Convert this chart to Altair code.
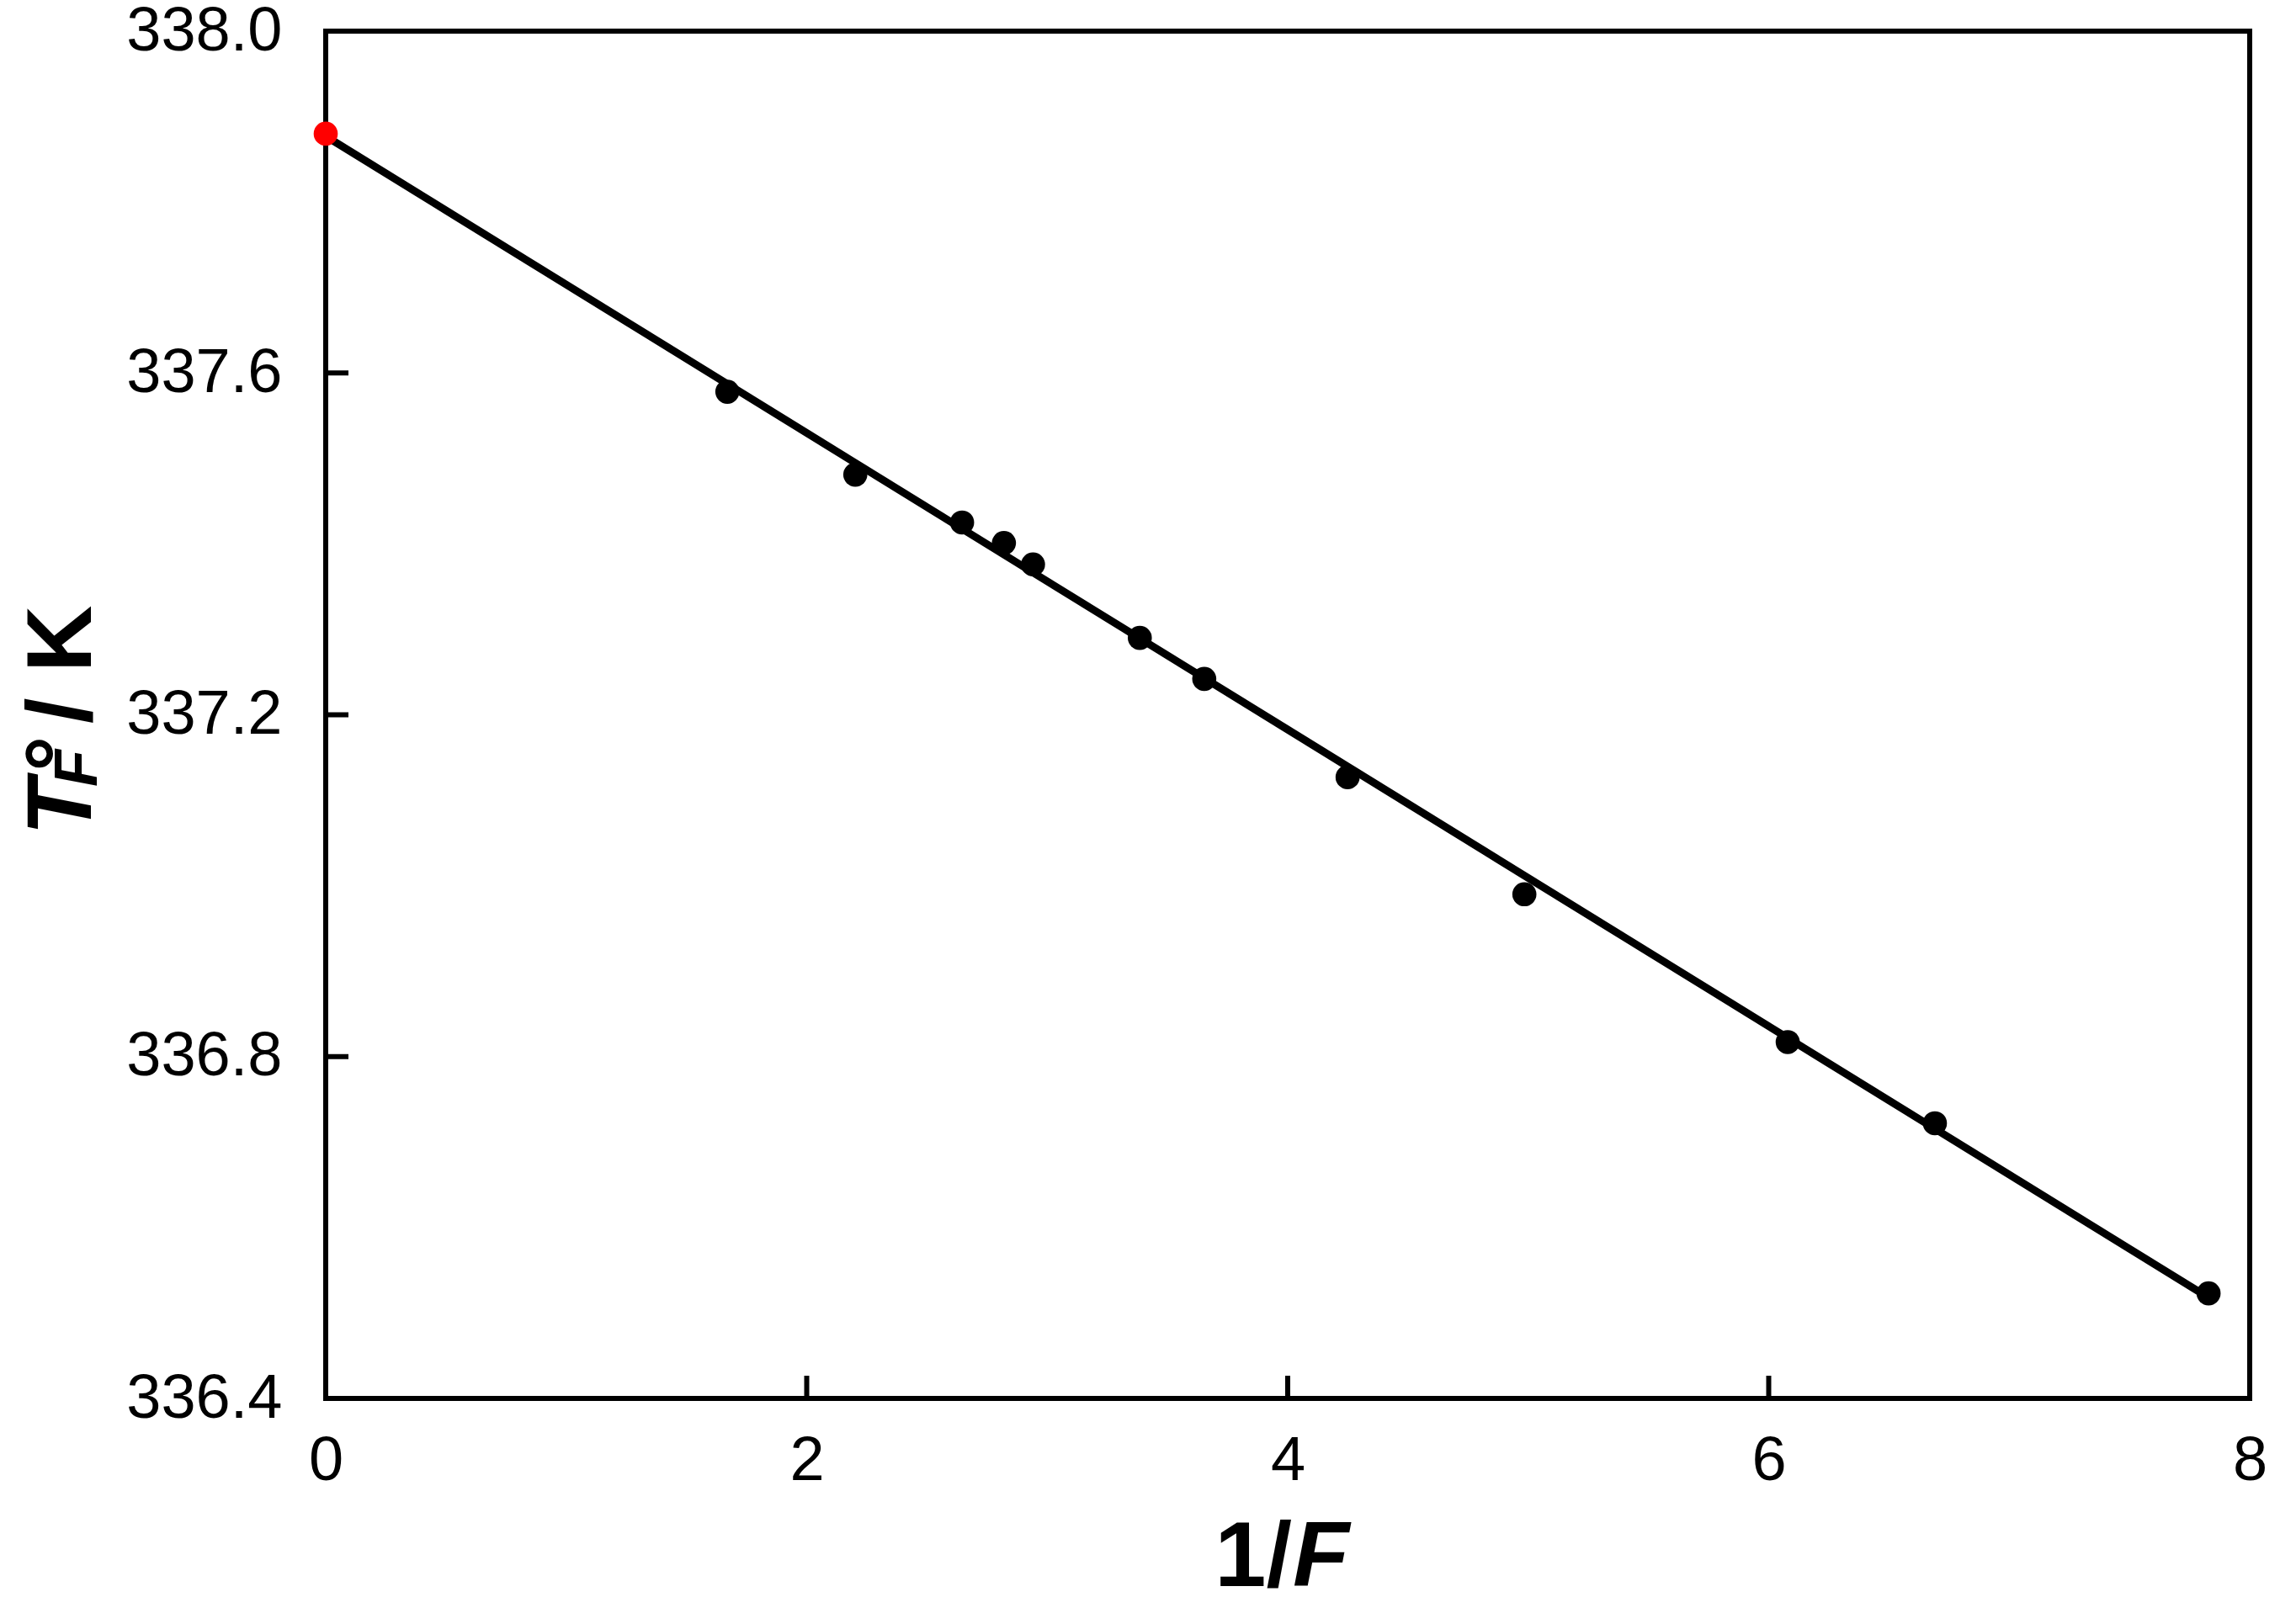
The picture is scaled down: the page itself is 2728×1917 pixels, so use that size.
import altair as alt
import pandas as pd

# ---- data ----
inv_F = [1.670, 2.202, 2.646, 2.820, 2.941, 3.385, 3.653, 4.249, 4.984, 6.079, 6.691, 7.829]
T_F = [337.578, 337.481, 337.425, 337.401, 337.376, 337.290, 337.242, 337.127, 336.990, 336.817, 336.722, 336.523]
extrap_x = [0.0]
extrap_y = [337.880]
fit_x = [0.0, 7.829]
fit_y = [337.877, 336.518]
x_ticks = [0, 2, 4, 6, 8]
y_ticks = [336.4, 336.8, 337.2, 337.6, 338.0]
x_title_parts = ["1/", "F"]
y_title_parts = ["T", "°", "F", "/ K"]

W, H = 2286, 1625
FONT = "Liberation Sans"

pts = pd.DataFrame({"x": inv_F, "y": T_F})
red = pd.DataFrame({"x": extrap_x, "y": extrap_y})
fit = pd.DataFrame({"x": fit_x, "y": fit_y})
xt = pd.DataFrame({"x": x_ticks})
yt = pd.DataFrame({"y": y_ticks})
one = pd.DataFrame({"k": [0]})

xs = alt.Scale(domain=[0, 8], nice=False, zero=False)
ys = alt.Scale(domain=[336.4, 338.0], nice=False, zero=False)

x_axis = alt.Axis(values=x_ticks, title=None, grid=False, ticks=False, domain=False,
                  labelFontSize=74, labelPadding=38, labelFlush=False, labelColor="black",
                  labelFont=FONT, labelOverlap=False, labelLimit=0)
y_axis = alt.Axis(values=y_ticks, format=".1f", title=None, grid=False, ticks=False, domain=False,
                  labelFontSize=74, labelPadding=52, labelFlush=False, labelColor="black",
                  labelFont=FONT, labelOverlap=False, labelLimit=0)

X = alt.X("x:Q", scale=xs, axis=x_axis)
Y = alt.Y("y:Q", scale=ys, axis=y_axis)

line = alt.Chart(fit).mark_line(color="black", strokeWidth=9).encode(x=X, y=Y)
dots = alt.Chart(pts).mark_circle(color="black", size=820, opacity=1).encode(x=X, y=Y)
reddot = alt.Chart(red).mark_circle(color="#ff0000", size=820, opacity=1).encode(x=X, y=Y)
xtick = alt.Chart(xt).mark_rule(color="black", strokeWidth=6).encode(
    x=X, y=alt.value(H), y2=alt.value(H - 27),
)
ytick = alt.Chart(yt).mark_rule(color="black", strokeWidth=6).encode(
    y=Y, x=alt.value(0), x2=alt.value(27),
)

def txt(s, x, y, size, italic=False, align="left", angle=0):
    return alt.Chart(one).mark_text(
        text=s, font=FONT, fontSize=size, fontWeight="bold",
        fontStyle="italic" if italic else "normal", align=align,
        baseline="alphabetic", angle=angle, color="black",
    ).encode(x=alt.value(x), y=alt.value(y))

xt1 = txt(x_title_parts[0], 1148, 1848, 110, italic=False, align="right")
xt2 = txt(x_title_parts[1], 1149, 1848, 110, italic=True, align="left")
yt1 = txt(y_title_parts[0], -279, 956, 110, italic=True, angle=270)
yt2 = txt(y_title_parts[1], -283, 880, 106, italic=False, angle=270)
yt3 = txt(y_title_parts[2], -272, 898, 72, italic=True, angle=270)
yt4 = txt(y_title_parts[3], -279, 823, 110, italic=False, angle=270)

chart = alt.layer(line, xtick, ytick, dots, reddot, xt1, xt2, yt1, yt2, yt3, yt4).properties(
    width=W, height=H,
    background="white",
    autosize=alt.AutoSizeParams(type="none"),
    padding={"left": 379, "top": 29, "right": 47, "bottom": 247},
).configure_view(stroke="black", strokeWidth=6, fill="white")

chart.save("out.html", embed_options={"renderer": "svg", "actions": False})
